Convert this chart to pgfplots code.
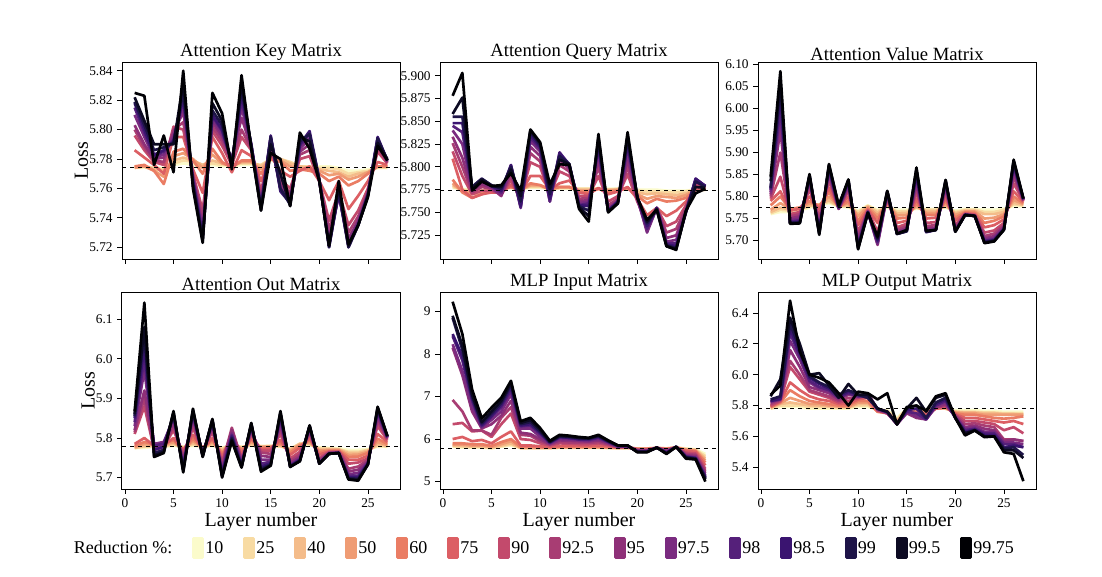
\documentclass[border=0pt]{standalone}
\usepackage{fontspec}
\setmainfont{Liberation Serif}
\usepackage{pgfplots}
\pgfplotsset{compat=1.18}
\usepackage{pgfplotstable}
\usepgfplotslibrary{groupplots}

\definecolor{c1}{HTML}{FBFBCB}
\definecolor{c2}{HTML}{F8DBA3}
\definecolor{c3}{HTML}{F4BC8A}
\definecolor{c4}{HTML}{EF9C74}
\definecolor{c5}{HTML}{EA7D64}
\definecolor{c6}{HTML}{DC5F64}
\definecolor{c7}{HTML}{C34A6C}
\definecolor{c8}{HTML}{A83D73}
\definecolor{c9}{HTML}{8E3078}
\definecolor{c10}{HTML}{7A2B80}
\definecolor{c11}{HTML}{55207A}
\definecolor{c12}{HTML}{3A1470}
\definecolor{c13}{HTML}{1E1448}
\definecolor{c14}{HTML}{0C0A22}
\definecolor{c15}{HTML}{000004}

% columns c1..c15 = reduction 10,25,40,50,60,75,90,92.5,95,97.5,98,98.5,99,99.5,99.75
\pgfplotstableread{
L c1 c2 c3 c4 c5 c6 c7 c8 c9 c10 c11 c12 c13 c14 c15
1 5.774 5.774 5.775 5.774 5.775 5.786 5.796 5.800 5.803 5.810 5.815 5.818 5.819 5.822 5.825
2 5.774 5.775 5.775 5.775 5.776 5.781 5.786 5.788 5.790 5.795 5.798 5.800 5.803 5.806 5.823
3 5.774 5.774 5.773 5.772 5.772 5.776 5.778 5.779 5.780 5.781 5.782 5.783 5.786 5.790 5.776
4 5.774 5.773 5.772 5.768 5.763 5.770 5.776 5.778 5.781 5.783 5.785 5.786 5.788 5.790 5.796
5 5.776 5.777 5.779 5.782 5.785 5.795 5.802 5.800 5.798 5.795 5.793 5.792 5.791 5.790 5.771
6 5.777 5.779 5.781 5.784 5.787 5.795 5.800 5.805 5.812 5.816 5.820 5.822 5.826 5.832 5.840
7 5.776 5.778 5.779 5.780 5.779 5.773 5.770 5.769 5.768 5.767 5.766 5.765 5.763 5.762 5.760
8 5.775 5.776 5.776 5.774 5.770 5.757 5.745 5.740 5.735 5.731 5.729 5.727 5.726 5.724 5.723
9 5.776 5.777 5.779 5.783 5.787 5.795 5.799 5.802 5.805 5.807 5.809 5.810 5.813 5.818 5.825
10 5.775 5.776 5.777 5.777 5.778 5.784 5.789 5.792 5.795 5.797 5.799 5.800 5.803 5.806 5.811
11 5.775 5.776 5.776 5.775 5.774 5.771 5.776 5.778 5.780 5.779 5.778 5.778 5.776 5.775 5.773
12 5.776 5.777 5.778 5.778 5.779 5.786 5.795 5.800 5.808 5.815 5.820 5.824 5.828 5.832 5.837
13 5.776 5.777 5.778 5.778 5.779 5.782 5.786 5.787 5.788 5.789 5.790 5.790 5.789 5.788 5.787
14 5.776 5.776 5.775 5.773 5.770 5.765 5.758 5.754 5.751 5.749 5.748 5.747 5.746 5.745 5.745
15 5.779 5.780 5.780 5.780 5.780 5.782 5.788 5.790 5.792 5.794 5.795 5.796 5.795 5.790 5.784
16 5.779 5.780 5.780 5.779 5.778 5.772 5.766 5.764 5.762 5.760 5.759 5.758 5.760 5.770 5.780
17 5.778 5.778 5.777 5.775 5.772 5.768 5.760 5.757 5.755 5.752 5.751 5.750 5.749 5.748 5.748
18 5.775 5.775 5.775 5.774 5.773 5.772 5.780 5.783 5.785 5.787 5.789 5.790 5.792 5.795 5.798
19 5.775 5.775 5.774 5.773 5.772 5.775 5.782 5.786 5.790 5.794 5.797 5.799 5.797 5.792 5.787
20 5.775 5.774 5.773 5.772 5.770 5.765 5.765 5.765 5.765 5.765 5.766 5.766 5.766 5.765 5.765
21 5.775 5.774 5.772 5.769 5.765 5.752 5.738 5.732 5.726 5.723 5.721 5.720 5.720 5.721 5.721
22 5.774 5.773 5.771 5.770 5.768 5.765 5.758 5.756 5.755 5.756 5.757 5.757 5.759 5.762 5.765
23 5.772 5.770 5.768 5.766 5.762 5.746 5.735 5.730 5.726 5.723 5.721 5.720 5.720 5.721 5.722
24 5.772 5.771 5.770 5.768 5.765 5.755 5.745 5.741 5.738 5.737 5.736 5.735 5.735 5.735 5.735
25 5.773 5.772 5.771 5.771 5.770 5.765 5.760 5.758 5.757 5.756 5.756 5.756 5.755 5.755 5.754
26 5.774 5.774 5.775 5.775 5.775 5.778 5.785 5.788 5.790 5.793 5.794 5.795 5.794 5.791 5.789
27 5.774 5.774 5.775 5.775 5.775 5.776 5.777 5.778 5.778 5.779 5.779 5.779 5.779 5.780 5.779
}\tabAK

\pgfplotstableread{
L c1 c2 c3 c4 c5 c6 c7 c8 c9 c10 c11 c12 c13 c14 c15
1 5.777 5.778 5.780 5.782 5.786 5.809 5.817 5.826 5.833 5.840 5.845 5.848 5.855 5.858 5.878
2 5.776 5.775 5.774 5.773 5.772 5.775 5.790 5.800 5.810 5.825 5.838 5.848 5.855 5.876 5.903
3 5.775 5.774 5.772 5.770 5.766 5.766 5.770 5.772 5.774 5.776 5.777 5.778 5.778 5.776 5.774
4 5.775 5.774 5.773 5.772 5.770 5.770 5.774 5.778 5.781 5.784 5.786 5.787 5.787 5.786 5.784
5 5.776 5.776 5.775 5.775 5.774 5.772 5.774 5.776 5.777 5.778 5.779 5.779 5.780 5.779 5.779
6 5.776 5.776 5.776 5.775 5.775 5.772 5.770 5.769 5.768 5.770 5.772 5.774 5.776 5.778 5.780
7 5.777 5.777 5.778 5.778 5.778 5.780 5.785 5.790 5.795 5.799 5.802 5.802 5.800 5.797 5.793
8 5.776 5.776 5.775 5.775 5.774 5.771 5.765 5.762 5.758 5.756 5.755 5.757 5.762 5.768 5.774
9 5.777 5.778 5.779 5.780 5.782 5.790 5.805 5.815 5.822 5.828 5.832 5.835 5.838 5.840 5.841
10 5.777 5.778 5.779 5.780 5.780 5.790 5.800 5.806 5.812 5.817 5.820 5.822 5.824 5.826 5.827
11 5.776 5.776 5.776 5.776 5.775 5.775 5.770 5.767 5.764 5.762 5.762 5.765 5.770 5.776 5.781
12 5.776 5.777 5.777 5.778 5.778 5.782 5.795 5.802 5.808 5.813 5.816 5.815 5.812 5.808 5.803
13 5.776 5.777 5.777 5.778 5.778 5.785 5.790 5.795 5.798 5.800 5.802 5.803 5.803 5.803 5.802
14 5.776 5.776 5.775 5.774 5.773 5.772 5.768 5.765 5.762 5.760 5.758 5.758 5.757 5.756 5.754
15 5.776 5.776 5.775 5.774 5.772 5.770 5.768 5.766 5.764 5.762 5.760 5.757 5.752 5.746 5.740
16 5.776 5.776 5.776 5.776 5.776 5.777 5.790 5.800 5.808 5.815 5.820 5.823 5.828 5.832 5.836
17 5.776 5.775 5.775 5.774 5.772 5.770 5.762 5.758 5.755 5.753 5.752 5.752 5.751 5.751 5.750
18 5.776 5.776 5.775 5.775 5.774 5.773 5.768 5.765 5.763 5.762 5.762 5.762 5.761 5.760 5.760
19 5.776 5.776 5.776 5.777 5.777 5.778 5.792 5.800 5.808 5.815 5.822 5.825 5.830 5.834 5.838
20 5.775 5.774 5.772 5.770 5.768 5.765 5.762 5.763 5.765 5.766 5.767 5.767 5.767 5.766 5.766
21 5.775 5.773 5.770 5.765 5.760 5.747 5.740 5.735 5.730 5.728 5.732 5.735 5.738 5.740 5.742
22 5.775 5.773 5.771 5.768 5.765 5.755 5.755 5.755 5.755 5.755 5.755 5.755 5.754 5.753 5.753
23 5.774 5.772 5.770 5.767 5.762 5.746 5.735 5.728 5.722 5.718 5.716 5.715 5.714 5.713 5.713
24 5.774 5.772 5.769 5.766 5.763 5.752 5.740 5.732 5.725 5.720 5.716 5.713 5.711 5.710 5.709
25 5.774 5.773 5.771 5.769 5.766 5.762 5.758 5.755 5.752 5.751 5.750 5.750 5.751 5.751 5.752
26 5.775 5.775 5.775 5.775 5.775 5.775 5.780 5.783 5.785 5.786 5.787 5.787 5.784 5.778 5.771
27 5.775 5.775 5.775 5.776 5.776 5.777 5.778 5.778 5.779 5.779 5.779 5.779 5.778 5.777 5.776
}\tabAQ

\pgfplotstableread{
L c1 c2 c3 c4 c5 c6 c7 c8 c9 c10 c11 c12 c13 c14 c15
1 5.760 5.762 5.765 5.770 5.780 5.790 5.795 5.800 5.805 5.810 5.815 5.818 5.820 5.835 5.845
2 5.765 5.770 5.775 5.785 5.800 5.812 5.845 5.900 5.950 5.980 6.000 6.030 6.050 6.065 6.085
3 5.765 5.768 5.770 5.772 5.772 5.768 5.760 5.755 5.750 5.746 5.743 5.741 5.740 5.739 5.738
4 5.768 5.770 5.772 5.774 5.775 5.772 5.765 5.760 5.755 5.750 5.746 5.743 5.741 5.740 5.739
5 5.775 5.778 5.780 5.785 5.790 5.800 5.815 5.825 5.833 5.838 5.842 5.845 5.847 5.849 5.851
6 5.780 5.782 5.782 5.780 5.778 5.770 5.755 5.745 5.735 5.728 5.724 5.720 5.717 5.715 5.713
7 5.785 5.788 5.792 5.800 5.810 5.820 5.835 5.845 5.852 5.858 5.862 5.866 5.869 5.872 5.874
8 5.778 5.778 5.778 5.778 5.776 5.775 5.773 5.772 5.772 5.773 5.774 5.776 5.777 5.778 5.780
9 5.775 5.778 5.780 5.785 5.790 5.800 5.812 5.818 5.823 5.828 5.831 5.834 5.836 5.838 5.839
10 5.768 5.765 5.760 5.755 5.745 5.735 5.720 5.710 5.702 5.695 5.690 5.687 5.684 5.682 5.680
11 5.780 5.779 5.778 5.776 5.773 5.770 5.768 5.767 5.766 5.765 5.765 5.764 5.764 5.763 5.763
12 5.770 5.767 5.763 5.757 5.750 5.740 5.720 5.705 5.690 5.692 5.696 5.700 5.703 5.706 5.709
13 5.775 5.778 5.780 5.783 5.786 5.790 5.795 5.800 5.804 5.807 5.809 5.810 5.811 5.812 5.813
14 5.770 5.766 5.762 5.757 5.750 5.740 5.730 5.724 5.720 5.718 5.716 5.715 5.715 5.715 5.716
15 5.770 5.767 5.763 5.758 5.752 5.745 5.738 5.733 5.728 5.725 5.722 5.721 5.721 5.722 5.724
16 5.772 5.774 5.776 5.780 5.785 5.795 5.810 5.820 5.830 5.840 5.848 5.853 5.858 5.862 5.866
17 5.772 5.770 5.767 5.763 5.758 5.750 5.740 5.733 5.727 5.722 5.720 5.719 5.720 5.721 5.722
18 5.772 5.770 5.767 5.763 5.758 5.752 5.742 5.735 5.730 5.727 5.725 5.724 5.724 5.724 5.724
19 5.775 5.777 5.780 5.784 5.790 5.797 5.808 5.815 5.821 5.826 5.830 5.833 5.835 5.837 5.838
20 5.768 5.765 5.762 5.758 5.752 5.745 5.735 5.730 5.726 5.723 5.722 5.721 5.721 5.720 5.720
21 5.772 5.770 5.768 5.766 5.764 5.762 5.760 5.760 5.759 5.759 5.759 5.758 5.758 5.758 5.758
22 5.772 5.770 5.768 5.766 5.763 5.760 5.758 5.757 5.757 5.756 5.756 5.756 5.756 5.756 5.756
23 5.770 5.765 5.760 5.750 5.740 5.730 5.718 5.710 5.705 5.702 5.699 5.697 5.696 5.695 5.694
24 5.770 5.765 5.760 5.752 5.745 5.735 5.723 5.716 5.710 5.706 5.703 5.701 5.700 5.699 5.698
25 5.772 5.770 5.765 5.760 5.755 5.748 5.740 5.735 5.731 5.728 5.727 5.726 5.725 5.725 5.724
26 5.778 5.782 5.786 5.792 5.800 5.812 5.830 5.845 5.855 5.863 5.869 5.874 5.878 5.881 5.884
27 5.778 5.780 5.781 5.783 5.785 5.788 5.790 5.791 5.792 5.793 5.794 5.794 5.795 5.795 5.796
}\tabAV

\pgfplotstableread{
L c1 c2 c3 c4 c5 c6 c7 c8 c9 c10 c11 c12 c13 c14 c15
1 5.774 5.775 5.775 5.777 5.780 5.785 5.810 5.815 5.820 5.830 5.840 5.850 5.855 5.860 5.867
2 5.775 5.778 5.780 5.785 5.790 5.800 5.880 5.900 5.920 5.970 6.000 6.030 6.060 6.080 6.142
3 5.778 5.779 5.780 5.782 5.784 5.780 5.772 5.770 5.775 5.785 5.780 5.770 5.762 5.756 5.752
4 5.778 5.779 5.780 5.782 5.785 5.782 5.778 5.776 5.780 5.790 5.786 5.778 5.770 5.765 5.762
5 5.780 5.783 5.786 5.790 5.795 5.800 5.820 5.830 5.840 5.848 5.853 5.858 5.862 5.865 5.868
6 5.778 5.777 5.775 5.772 5.770 5.768 5.760 5.750 5.742 5.735 5.729 5.724 5.720 5.716 5.713
7 5.780 5.783 5.787 5.792 5.798 5.808 5.825 5.835 5.845 5.853 5.859 5.864 5.868 5.871 5.874
8 5.778 5.778 5.777 5.776 5.775 5.772 5.770 5.766 5.763 5.760 5.758 5.756 5.755 5.753 5.752
9 5.780 5.782 5.785 5.790 5.795 5.800 5.815 5.822 5.830 5.835 5.839 5.842 5.845 5.847 5.848
10 5.776 5.774 5.770 5.765 5.760 5.752 5.740 5.733 5.725 5.718 5.713 5.709 5.705 5.702 5.700
11 5.780 5.782 5.785 5.790 5.795 5.805 5.818 5.826 5.820 5.812 5.808 5.804 5.800 5.796 5.792
12 5.778 5.777 5.775 5.772 5.768 5.760 5.750 5.745 5.740 5.736 5.733 5.730 5.728 5.726 5.725
13 5.780 5.782 5.785 5.790 5.795 5.800 5.810 5.815 5.820 5.825 5.829 5.832 5.835 5.837 5.838
14 5.780 5.779 5.778 5.777 5.775 5.772 5.768 5.763 5.755 5.745 5.735 5.728 5.722 5.718 5.715
15 5.780 5.780 5.779 5.778 5.776 5.773 5.768 5.760 5.752 5.745 5.740 5.736 5.733 5.731 5.730
16 5.778 5.779 5.781 5.784 5.788 5.795 5.810 5.822 5.832 5.842 5.850 5.856 5.861 5.865 5.868
17 5.774 5.772 5.770 5.767 5.763 5.757 5.748 5.742 5.737 5.733 5.731 5.729 5.728 5.727 5.727
18 5.784 5.786 5.785 5.783 5.780 5.775 5.765 5.758 5.752 5.748 5.746 5.744 5.743 5.742 5.741
19 5.782 5.784 5.786 5.790 5.795 5.800 5.810 5.815 5.820 5.824 5.827 5.829 5.830 5.831 5.832
20 5.776 5.774 5.771 5.768 5.764 5.758 5.750 5.745 5.741 5.738 5.737 5.736 5.736 5.735 5.735
21 5.775 5.773 5.772 5.770 5.768 5.766 5.764 5.763 5.762 5.761 5.761 5.760 5.760 5.760 5.760
22 5.774 5.772 5.771 5.770 5.768 5.766 5.765 5.764 5.763 5.763 5.762 5.762 5.762 5.762 5.762
23 5.770 5.765 5.762 5.757 5.752 5.745 5.735 5.722 5.715 5.708 5.704 5.700 5.698 5.696 5.695
24 5.770 5.765 5.762 5.758 5.753 5.745 5.738 5.728 5.720 5.712 5.705 5.700 5.697 5.694 5.692
25 5.772 5.770 5.768 5.765 5.762 5.755 5.748 5.744 5.740 5.738 5.736 5.735 5.734 5.733 5.733
26 5.778 5.780 5.784 5.790 5.798 5.810 5.830 5.842 5.852 5.860 5.866 5.870 5.874 5.877 5.879
27 5.778 5.779 5.780 5.782 5.785 5.790 5.795 5.798 5.800 5.801 5.802 5.803 5.804 5.805 5.805
}\tabAO

\pgfplotstableread{
L c1 c2 c3 c4 c5 c6 c7 c8 c9 c10 c11 c12 c13 c14 c15
1 5.82 5.83 5.85 5.87 5.90 6.00 6.35 6.92 8.15 8.23 8.42 8.47 8.85 8.90 9.23
2 5.80 5.82 5.84 5.87 5.90 6.05 6.38 6.65 7.50 7.60 7.85 7.95 8.10 8.20 8.47
3 5.80 5.81 5.83 5.85 5.88 5.95 6.18 6.20 6.65 6.75 6.90 6.95 7.00 7.05 7.17
4 5.80 5.81 5.83 5.85 5.88 5.98 6.20 6.20 6.25 6.27 6.30 6.33 6.37 6.40 6.49
5 5.78 5.79 5.80 5.82 5.84 5.90 6.05 6.10 6.35 6.45 6.52 6.55 6.60 6.65 6.74
6 5.82 5.83 5.85 5.88 5.93 6.05 6.35 6.50 6.55 6.65 6.75 6.80 6.85 6.90 6.97
7 5.85 5.87 5.90 5.95 6.00 6.18 6.60 6.75 6.90 7.05 7.15 7.22 7.28 7.32 7.37
8 5.79 5.79 5.79 5.80 5.82 5.85 6.00 6.10 6.15 6.25 6.30 6.32 6.35 6.38 6.42
9 5.79 5.79 5.79 5.80 5.82 5.85 5.98 6.08 6.12 6.25 6.32 6.35 6.40 6.45 6.50
10 5.79 5.79 5.79 5.80 5.81 5.83 5.90 5.95 6.00 6.05 6.12 6.15 6.18 6.22 6.26
11 5.79 5.79 5.79 5.80 5.80 5.82 5.85 5.87 5.88 5.90 5.91 5.92 5.93 5.94 5.96
12 5.79 5.80 5.80 5.81 5.82 5.84 5.90 5.93 5.97 6.00 6.03 6.05 6.06 6.08 6.10
13 5.79 5.80 5.80 5.81 5.82 5.84 5.89 5.92 5.96 5.99 6.02 6.03 6.05 6.06 6.08
14 5.79 5.80 5.80 5.81 5.82 5.84 5.88 5.91 5.95 5.97 5.99 6.00 6.02 6.03 6.05
15 5.79 5.80 5.80 5.81 5.82 5.84 5.88 5.91 5.94 5.96 5.98 6.00 6.01 6.02 6.03
16 5.79 5.80 5.80 5.81 5.82 5.85 5.90 5.93 5.97 6.00 6.03 6.05 6.07 6.08 6.10
17 5.79 5.79 5.80 5.80 5.81 5.83 5.86 5.88 5.90 5.92 5.93 5.94 5.95 5.96 5.97
18 5.79 5.79 5.79 5.79 5.80 5.80 5.81 5.82 5.82 5.83 5.83 5.84 5.84 5.85 5.85
19 5.79 5.79 5.79 5.80 5.80 5.81 5.82 5.82 5.83 5.83 5.84 5.84 5.84 5.85 5.85
20 5.78 5.78 5.78 5.77 5.77 5.76 5.75 5.74 5.73 5.72 5.71 5.71 5.70 5.70 5.69
21 5.78 5.78 5.78 5.77 5.77 5.76 5.75 5.74 5.73 5.72 5.71 5.71 5.70 5.70 5.69
22 5.79 5.79 5.79 5.79 5.79 5.79 5.79 5.79 5.79 5.80 5.80 5.80 5.80 5.80 5.80
23 5.78 5.78 5.78 5.77 5.77 5.76 5.74 5.73 5.72 5.70 5.69 5.68 5.67 5.66 5.65
24 5.80 5.80 5.80 5.80 5.80 5.80 5.81 5.81 5.81 5.81 5.82 5.82 5.82 5.82 5.82
25 5.78 5.77 5.76 5.75 5.74 5.72 5.68 5.65 5.62 5.60 5.59 5.58 5.57 5.56 5.54
26 5.76 5.75 5.74 5.73 5.72 5.70 5.66 5.63 5.60 5.57 5.56 5.55 5.54 5.53 5.52
27 5.65 5.60 5.55 5.50 5.45 5.38 5.30 5.25 5.20 5.15 5.12 5.10 5.08 5.05 5.00
}\tabMI

\pgfplotstableread{
L c1 c2 c3 c4 c5 c6 c7 c8 c9 c10 c11 c12 c13 c14 c15
1 5.780 5.780 5.785 5.790 5.790 5.795 5.800 5.810 5.820 5.825 5.830 5.830 5.840 5.860 5.870
2 5.790 5.800 5.810 5.815 5.820 5.825 5.830 5.835 5.840 5.840 5.840 5.845 5.860 5.970 5.930
3 5.790 5.800 5.820 5.850 5.900 5.950 6.050 6.090 6.160 6.220 6.270 6.300 6.330 6.370 6.480
4 5.790 5.800 5.810 5.830 5.860 5.900 5.970 6.000 6.050 6.100 6.120 6.140 6.170 6.200 6.150
5 5.780 5.790 5.800 5.810 5.830 5.860 5.890 5.900 5.920 5.950 5.960 5.980 5.990 6.000 6.000
6 5.780 5.790 5.800 5.810 5.820 5.840 5.870 5.880 5.900 5.910 5.920 5.940 5.950 6.010 5.980
7 5.780 5.790 5.795 5.800 5.810 5.830 5.850 5.860 5.880 5.890 5.900 5.910 5.920 5.930 5.950
8 5.780 5.785 5.790 5.795 5.800 5.810 5.820 5.830 5.840 5.850 5.850 5.860 5.870 5.850 5.880
9 5.780 5.785 5.790 5.790 5.800 5.810 5.830 5.850 5.870 5.880 5.880 5.890 5.900 5.940 5.800
10 5.790 5.800 5.810 5.820 5.830 5.840 5.850 5.850 5.860 5.860 5.860 5.870 5.870 5.870 5.890
11 5.790 5.800 5.810 5.820 5.830 5.850 5.860 5.870 5.880 5.870 5.860 5.850 5.850 5.870 5.880
12 5.775 5.770 5.765 5.760 5.760 5.765 5.770 5.770 5.775 5.780 5.780 5.780 5.780 5.780 5.840
13 5.770 5.765 5.760 5.755 5.750 5.750 5.750 5.750 5.755 5.755 5.755 5.760 5.760 5.760 5.880
14 5.720 5.710 5.700 5.695 5.690 5.685 5.680 5.680 5.680 5.680 5.680 5.680 5.680 5.680 5.677
15 5.780 5.780 5.775 5.770 5.765 5.760 5.760 5.755 5.750 5.760 5.760 5.770 5.780 5.780 5.790
16 5.780 5.775 5.770 5.765 5.760 5.750 5.740 5.730 5.720 5.730 5.750 5.780 5.800 5.850 5.800
17 5.775 5.770 5.765 5.760 5.750 5.740 5.730 5.720 5.710 5.710 5.710 5.715 5.720 5.760 5.766
18 5.780 5.780 5.780 5.780 5.780 5.780 5.785 5.790 5.790 5.800 5.800 5.810 5.820 5.850 5.860
19 5.780 5.780 5.780 5.785 5.790 5.790 5.800 5.800 5.810 5.820 5.830 5.840 5.850 5.870 5.880
20 5.770 5.760 5.760 5.755 5.750 5.745 5.740 5.735 5.730 5.725 5.720 5.720 5.720 5.720 5.720
21 5.770 5.760 5.755 5.750 5.740 5.720 5.700 5.680 5.660 5.650 5.640 5.630 5.620 5.620 5.606
22 5.770 5.760 5.755 5.750 5.740 5.720 5.700 5.685 5.670 5.660 5.650 5.645 5.640 5.640 5.638
23 5.765 5.755 5.750 5.740 5.730 5.710 5.690 5.670 5.650 5.630 5.620 5.610 5.600 5.600 5.595
24 5.765 5.755 5.750 5.740 5.720 5.700 5.680 5.660 5.640 5.630 5.620 5.610 5.600 5.600 5.600
25 5.760 5.750 5.745 5.740 5.715 5.690 5.640 5.580 5.570 5.560 5.550 5.530 5.520 5.510 5.497
26 5.760 5.750 5.745 5.740 5.720 5.700 5.660 5.580 5.580 5.560 5.550 5.540 5.530 5.510 5.487
27 5.760 5.750 5.740 5.740 5.730 5.680 5.620 5.570 5.570 5.550 5.530 5.530 5.480 5.460 5.310
}\tabMO

\begin{document}
\begin{tikzpicture}
\begin{groupplot}[
  group style={group size=3 by 2, horizontal sep=30pt, vertical sep=24.75pt},
  width=208.5pt, height=147.75pt, scale only axis,
  xmin=-0.3, xmax=28.3, xtick={0,5,10,15,20,25},
  tick pos=left, tick align=outside, major tick length=3.5pt,
  tick style={black, line width=0.6pt},
  axis line style={black, line width=0.75pt},
  tick label style={font=\fontsize{10}{12}\selectfont},
  title style={font=\fontsize{14}{17}\selectfont, yshift=-8.5pt},
  label style={font=\fontsize{15}{18}\selectfont},
  xlabel style={yshift=3pt},
  ylabel style={yshift=-6pt},
  /pgf/number format/assume math mode=true,
  scaled y ticks=false,
  every axis plot/.append style={line width=2pt, line join=round},
  legend image code/.code={\fill (0pt,-7pt) rectangle (6.75pt,7.25pt);},
]
% --- Attention Key
\nextgroupplot[title={Attention Key Matrix}, ylabel={Loss}, xticklabels={},
  ymin=5.712, ymax=5.846, ytick={5.72,5.74,5.76,5.78,5.80,5.82,5.84},
  yticklabel style={/pgf/number format/.cd, fixed, fixed zerofill, precision=2}]
\coordinate (TL) at (rel axis cs:0,1);
\pgfplotsinvokeforeach{1,...,15}{\addplot[c#1] table[x=L,y=c#1]{\tabAK};}
\addplot[black, dashed, line width=0.75pt, forget plot] coordinates {(-0.3,5.7742) (28.3,5.7742)};
% --- Attention Query
\nextgroupplot[title={Attention Query Matrix}, xticklabels={},
  ymin=5.699, ymax=5.915, ytick={5.725,5.750,5.775,5.800,5.825,5.850,5.875,5.900},
  yticklabel style={/pgf/number format/.cd, fixed, fixed zerofill, precision=3}]
\pgfplotsinvokeforeach{1,...,15}{\addplot[c#1] table[x=L,y=c#1]{\tabAQ};}
\addplot[black, dashed, line width=0.75pt, forget plot] coordinates {(-0.3,5.7742) (28.3,5.7742)};
% --- Attention Value
\nextgroupplot[title={Attention Value Matrix}, xticklabels={},
  ymin=5.658, ymax=6.106, ytick={5.70,5.75,5.80,5.85,5.90,5.95,6.00,6.05,6.10},
  yticklabel style={/pgf/number format/.cd, fixed, fixed zerofill, precision=2}]
\pgfplotsinvokeforeach{1,...,15}{\addplot[c#1] table[x=L,y=c#1]{\tabAV};}
\addplot[black, dashed, line width=0.75pt, forget plot] coordinates {(-0.3,5.7756) (28.3,5.7756)};
% --- Attention Out
\nextgroupplot[title={Attention Out Matrix}, ylabel={Loss}, xlabel={Layer number},
  ymin=5.671, ymax=6.169, ytick={5.7,5.8,5.9,6.0,6.1},
  yticklabel style={/pgf/number format/.cd, fixed, fixed zerofill, precision=1}]
\pgfplotsinvokeforeach{1,...,15}{\addplot[c#1] table[x=L,y=c#1]{\tabAO};}
\addplot[black, dashed, line width=0.75pt, forget plot] coordinates {(-0.3,5.778) (28.3,5.778)};
% --- MLP Input
\nextgroupplot[title={MLP Input Matrix}, xlabel={Layer number},
  ymin=4.826, ymax=9.458, ytick={5,6,7,8,9}]
\pgfplotsinvokeforeach{1,...,15}{\addplot[c#1] table[x=L,y=c#1]{\tabMI};}
\addplot[black, dashed, line width=0.75pt, forget plot] coordinates {(-0.3,5.79) (28.3,5.79)};
% --- MLP Output
\nextgroupplot[title={MLP Output Matrix}, xlabel={Layer number},
  ymin=5.259, ymax=6.536, ytick={5.4,5.6,5.8,6.0,6.2,6.4},
  yticklabel style={/pgf/number format/.cd, fixed, fixed zerofill, precision=1},
  legend columns=16,
  legend entries={Reduction \%:,10,25,40,50,60,75,90,92.5,95,97.5,98,98.5,99,99.5,99.75},
  legend style={at={(-0.770,-0.30)}, anchor=center, draw=none, fill=none,
    font=\fontsize{13.5}{16}\selectfont, nodes={inner sep=1pt},
    /tikz/every even column/.append style={column sep=14pt}}]
\addlegendimage{empty legend}
\coordinate (BR) at (rel axis cs:1,0);
\pgfplotsinvokeforeach{1,...,15}{\addplot[c#1] table[x=L,y=c#1]{\tabMO};}
\addplot[black, dashed, line width=0.75pt, forget plot] coordinates {(-0.3,5.783) (28.3,5.783)};
\end{groupplot}
\path (TL) ++(-91.5pt,46.5pt) coordinate (P1);
\path (BR) ++(49.5pt,-65.25pt) coordinate (P2);
\path (P1) rectangle (P2);
\end{tikzpicture}
\end{document}
